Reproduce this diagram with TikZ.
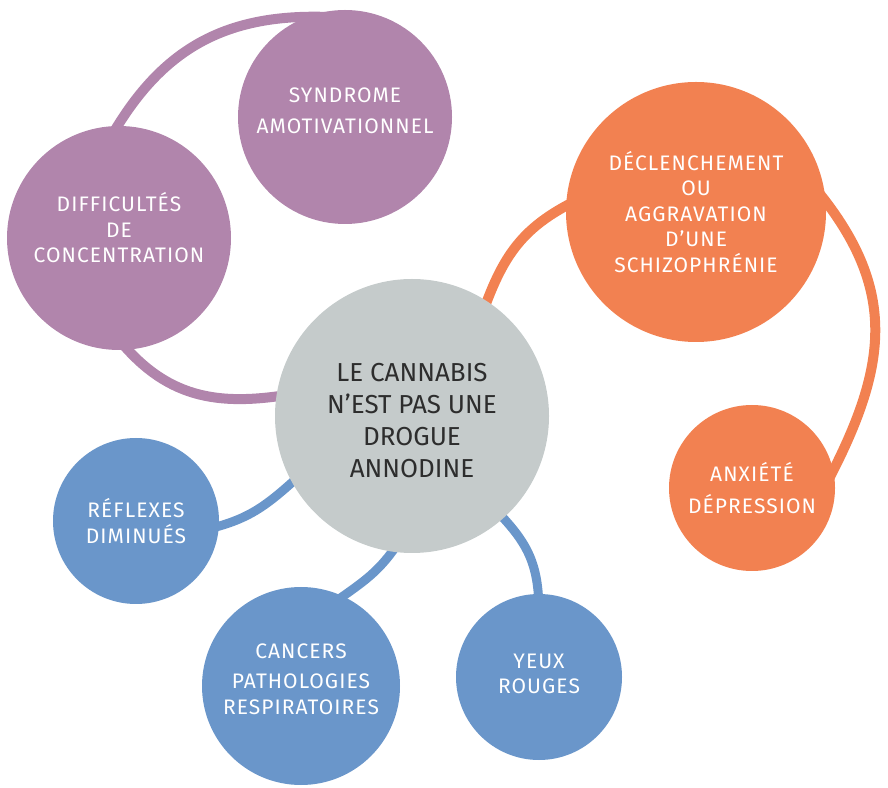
\documentclass[tikz,border=0pt]{standalone}
\usepackage{fontspec}
\setmainfont{Fira Sans}
\newfontfamily\policebulle{Fira Sans}[LetterSpace=5]
\usetikzlibrary{backgrounds}
\definecolor{mauve}{HTML}{B185AC}
\definecolor{corail}{HTML}{F28151}
\definecolor{bleu}{HTML}{6A96CA}
\definecolor{gris}{HTML}{C5CBCB}
\definecolor{encre}{HTML}{2D2D2D}
\tikzset{
	bulle/.style={circle, draw=none, fill=#1, inner sep=0pt},
	texte/.style={text=white, align=center, inner sep=0pt, font=\policebulle\fontsize{21}{25.5}\selectfont},
	lien/.style={line width=10pt, draw=#1, shorten <=-20pt, shorten >=-20pt},
}

\begin{document}
\begin{tikzpicture}[x=1pt, y=1pt]
			%%%%% START %%%%%
			\useasboundingbox (0, 0) rectangle (888, 787);
			
			\node[bulle=gris, minimum size=274pt, label={[texte, text=encre, font=\fontsize{26}{32}\selectfont, yshift=-5pt]center:{LE CANNABIS\\N’EST PAS UNE\\DROGUE\\ANNODINE}}] (cannabis) at (412, 371) {};
			
			\node[bulle=mauve, minimum size=214pt, label={[texte, yshift=6pt]center:{SYNDROME\\[6pt]AMOTIVATIONNEL}}] (syndrome) at (345, 670) {};
			\node[bulle=mauve, minimum size=224pt, label={[texte, yshift=10pt]center:{DIFFICULTÉS\\DE\\CONCENTRATION}}] (difficultes) at (119, 549) {};
			
			\node[bulle=corail, minimum size=260pt, label={[texte]center:{DÉCLENCHEMENT\\OU\\AGGRAVATION\\D’UNE\\SCHIZOPHRÉNIE}}] (declenchement) at (696, 575) {};
			\node[bulle=corail, minimum size=166pt, label={[texte]center:{ANXIÉTÉ\\[6pt]DÉPRESSION}}] (anxiete) at (752, 299) {};
			
			\node[bulle=bleu, minimum size=166pt, label={[texte]center:{RÉFLEXES\\DIMINUÉS}}] (reflexes) at (136, 266) {};
			\node[bulle=bleu, minimum size=198pt, label={[texte, yshift=7pt]center:{CANCERS\\[5pt]PATHOLOGIES\\RESPIRATOIRES}}] (cancers) at (301, 101) {};
			\node[bulle=bleu, minimum size=166pt, label={[texte, yshift=3pt]center:{YEUX\\ROUGES}}] (yeux) at (539, 110) {};
			
			\begin{scope}[on background layer]
				\draw[lien=mauve] (difficultes.91) to[out=61, in=178] (syndrome.110);
				\draw[lien=mauve] (difficultes.-86) to[out=-52, in=190] (cannabis.172);
				
				\draw[lien=corail] (cannabis.57) to[out=71, in=205] (declenchement.177);
				\draw[lien=corail] (declenchement.5) to[out=-50, in=62, looseness=1.1] (anxiete.12);
				
				\draw[lien=bleu, line width=9pt] (reflexes.-4) to[out=12, in=222] (cannabis.209);
				\draw[lien=bleu, line width=9pt] (cancers.65) to[out=36, in=238] (cannabis.262);
				\draw[lien=bleu, line width=9pt] (cannabis.-48) to[out=-45, in=90] (yeux.90);
			\end{scope}
			
			%%%%% END %%%%%
\end{tikzpicture}
\end{document}
